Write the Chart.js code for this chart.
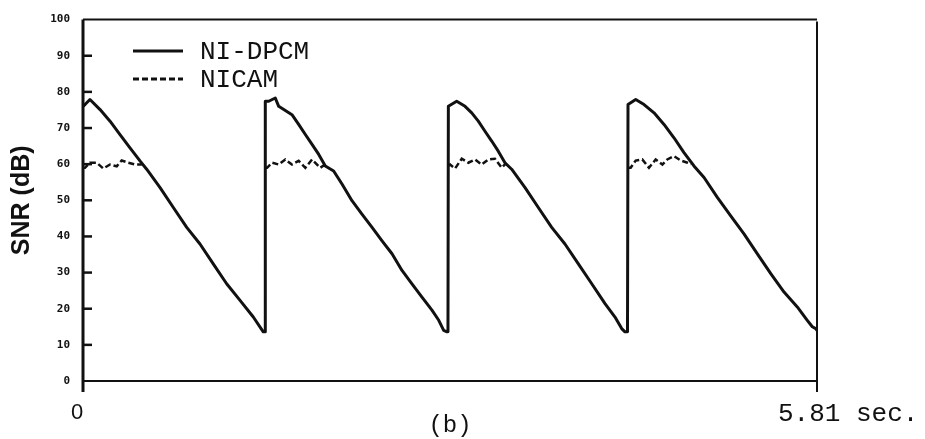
<!DOCTYPE html>
<html>
<head>
<meta charset="utf-8">
<script src="https://cdn.jsdelivr.net/npm/chart.js@4/dist/chart.umd.min.js"></script>
<style>
  body { margin: 0; background: #fff; }
  canvas { display: block; }
</style>
</head>
<body>
<canvas id="snrChart" width="925" height="439"></canvas>
<script>
// NI-DPCM: time (s) and SNR (dB)
const ndpcmTime = [
  0, 0.016, 0.055, 0.135, 0.214, 0.293, 0.372, 0.451, 0.504, 0.610, 0.715, 0.821, 0.926, 1.031, 1.137, 1.243, 1.348, 1.427, 1.441,
  1.443, 1.470, 1.522, 1.549, 1.654, 1.707, 1.760, 1.813, 1.866, 1.918, 1.984, 2.050, 2.129, 2.208, 2.288, 2.367, 2.446, 2.525, 2.604, 2.683, 2.762, 2.816, 2.855, 2.881, 2.889,
  2.892, 2.958, 3.024, 3.077, 3.129, 3.182, 3.235, 3.287, 3.340, 3.393, 3.499, 3.604, 3.710, 3.815, 3.921, 4.027, 4.132, 4.211, 4.264, 4.290, 4.310,
  4.314, 4.375, 4.441, 4.520, 4.599, 4.678, 4.757, 4.836, 4.916, 5.021, 5.127, 5.232, 5.338, 5.444, 5.549, 5.654, 5.733, 5.773, 5.800, 5.81
];
const ndpcmSnr = [
  76, 76.5, 77.9, 75.1, 71.9, 68.2, 64.5, 60.9, 58.6, 53.5, 48, 42.5, 37.9, 32.4, 26.9, 22.3, 17.7, 13.6, 13.6,
  77.4, 77.4, 78.3, 76, 73.7, 71, 68.2, 65.5, 62.7, 59.5, 58.1, 54.5, 49.9, 46.2, 42.5, 38.8, 35.2, 30.6, 26.9, 23.2, 19.6, 16.8, 14, 13.6, 13.6,
  76, 77.4, 76, 74.2, 71.9, 69.1, 66.4, 63.6, 60.4, 58.6, 53.5, 48, 42.5, 37.9, 32.4, 26.9, 21.4, 17.7, 14.5, 13.6, 13.6,
  76.5, 77.9, 76.5, 74.2, 71, 67.3, 63.2, 59.5, 56.3, 50.8, 45.7, 40.7, 35.2, 29.7, 24.6, 20.5, 16.8, 15, 14.5, 14
];

// NICAM: only the flat part differs, below ~60 dB it lies on the NI-DPCM curve
const nicamTime = [
  0, 0.016, 0.055, 0.108, 0.161, 0.214, 0.267, 0.306, 0.359, 0.412, 0.465, 0.9,
  1.445, 1.457, 1.496, 1.549, 1.601, 1.654, 1.707, 1.760, 1.813, 1.878, 1.908, 2.4,
  2.893, 2.905, 2.945, 2.998, 3.050, 3.103, 3.156, 3.208, 3.261, 3.314, 3.348, 3.8,
  4.314, 4.335, 4.375, 4.427, 4.480, 4.533, 4.586, 4.625, 4.678, 4.733, 4.785, 4.813
];
const nicamSnr = [
  59, 59, 60.4, 60.4, 58.8, 59.9, 59.4, 61, 60.4, 59.9, 59.9, null,
  59, 59, 60.4, 59.9, 61.3, 59.9, 60.9, 59, 61.3, 59, 59.7, null,
  59.5, 59.9, 58.8, 61.5, 60.4, 61.3, 59.9, 61.3, 61.5, 59, 60.2, null,
  59, 59, 61, 61.3, 59, 61.3, 59.9, 61.3, 62.2, 61, 60.4, 60
];

const yTicks = [0, 10, 20, 30, 40, 50, 60, 70, 80, 90, 100];
const xEndLabel = '5.81 sec.';
const ink = '#111';

const toPoints = (xs, ys) => xs.map((x, i) => ({ x: x, y: ys[i] }));

// frame, inward ticks, legend and end labels like the scanned figure
const paperPlugin = {
  id: 'paper',
  afterDraw(chart) {
    const { ctx, chartArea: a, scales: { x, y } } = chart;
    ctx.save();
    ctx.strokeStyle = ink;
    ctx.lineCap = 'butt';

    ctx.lineWidth = 2;
    ctx.beginPath();
    ctx.moveTo(a.left, a.top); ctx.lineTo(a.right, a.top);
    ctx.moveTo(a.left, a.bottom); ctx.lineTo(a.right, a.bottom);
    ctx.moveTo(a.right, a.top + 2); ctx.lineTo(a.right, a.bottom + 11);
    ctx.stroke();
    ctx.lineWidth = 3;
    ctx.beginPath();
    ctx.moveTo(a.left, a.top); ctx.lineTo(a.left, a.bottom + 11);
    ctx.stroke();

    ctx.lineWidth = 2.5;
    yTicks.forEach(v => {
      if (v === 0 || v === 100) return;
      const py = y.getPixelForValue(v);
      ctx.beginPath();
      ctx.moveTo(a.left, py); ctx.lineTo(a.left + 9, py);
      ctx.stroke();
    });

    // legend
    const ds = chart.data.datasets;
    const rows = [51, 79];
    ctx.font = '26px "Liberation Mono", monospace';
    ctx.textBaseline = 'middle';
    ctx.fillStyle = ink;
    ds.forEach((d, i) => {
      ctx.lineWidth = 3;
      ctx.setLineDash(d.borderDash || []);
      ctx.beginPath();
      ctx.moveTo(133, rows[i]); ctx.lineTo(183, rows[i]);
      ctx.stroke();
      ctx.setLineDash([]);
      ctx.fillText(d.label, 200, rows[i] + 1);
    });

    // x end labels
    ctx.textAlign = 'center';
    ctx.font = '22px "Liberation Sans", sans-serif';
    ctx.fillText('0', x.getPixelForValue(0) - 6, 413);
    ctx.textAlign = 'left';
    ctx.font = '26px "Liberation Mono", monospace';
    ctx.fillText(xEndLabel, x.getPixelForValue(5.81) - 39, 414);
    ctx.restore();
  }
};

new Chart(document.getElementById('snrChart'), {
  type: 'line',
  data: {
    datasets: [
      {
        label: 'NI-DPCM',
        data: toPoints(ndpcmTime, ndpcmSnr),
        borderColor: ink,
        borderWidth: 3,
        pointRadius: 0,
        tension: 0,
        borderJoinStyle: 'round'
      },
      {
        label: 'NICAM',
        data: toPoints(nicamTime, nicamSnr),
        borderColor: ink,
        borderWidth: 2.5,
        borderDash: [6, 3],
        pointRadius: 0,
        tension: 0,
        spanGaps: false
      }
    ]
  },
  options: {
    responsive: false,
    animation: false,
    layout: { padding: { left: 0, top: 18, right: 108, bottom: 0 } },
    plugins: {
      legend: { display: false },
      tooltip: { enabled: false }
    },
    scales: {
      x: {
        type: 'linear',
        min: 0,
        max: 5.81,
        grid: { display: false },
        border: { display: false },
        ticks: { display: false },
        title: {
          display: true,
          text: '(b)',
          color: ink,
          font: { family: '"Liberation Mono", monospace', size: 24, lineHeight: 1 },
          padding: { top: 0, bottom: 1 }
        },
        afterFit: s => { s.height = 58; }
      },
      y: {
        min: 0,
        max: 100,
        afterBuildTicks: s => { s.ticks = yTicks.map(v => ({ value: v })); },
        grid: { display: false, drawTicks: false },
        border: { display: false },
        ticks: {
          padding: 13,
          color: ink,
          font: { family: '"DejaVu Sans Mono", monospace', size: 11, weight: 'bold' }
        },
        title: {
          display: true,
          text: 'SNR (dB)',
          color: ink,
          font: { family: '"Liberation Sans", sans-serif', size: 25, weight: 'bold', lineHeight: 1.2 },
          padding: { top: 7, bottom: 0 }
        },
        afterFit: s => { s.width = 83; }
      }
    }
  },
  plugins: [paperPlugin]
});
</script>
</body>
</html>
